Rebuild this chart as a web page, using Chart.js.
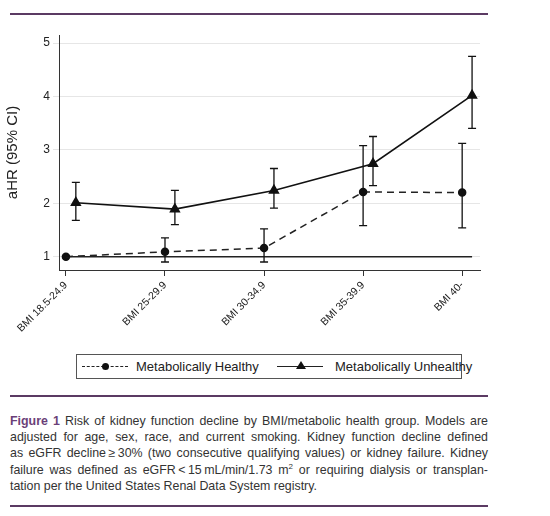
<!DOCTYPE html>
<html>
<head>
<meta charset="utf-8">
<script src="https://cdn.jsdelivr.net/npm/chart.js@4"></script>
<style>
body { margin: 0; background: #fff; font-family: "Liberation Sans", Arial, sans-serif; }
.rule { position: absolute; left: 10px; width: 478px; height: 2px; background: #5b3a63; }
#wrap { position: absolute; left: 0; top: 20px; width: 490px; height: 330px; }
#legend { position: absolute; left: 76px; top: 354px; width: 384px; height: 23px; border: 1px solid #555; font-size: 13px; color: #222; white-space: nowrap; }
.item { position: absolute; top: 4px; }
.sample { position: absolute; top: 11px; width: 46px; height: 0; }
.caption { position: absolute; left: 10px; top: 413px; width: 478px; font-size: 12.4px; line-height: 16.2px; color: #333; }
.caption div { text-align: justify; text-align-last: justify; white-space: nowrap; }
.caption div.last { text-align-last: left; }
.caption b { color: #6b3f78; }
</style>
</head>
<body>
<div class="rule" style="top:13px"></div>
<div id="wrap"><canvas id="chart"></canvas></div>
<div id="legend">
  <div class="sample" style="left:5px;border-top:1.5px dashed #222"></div>
  <div style="position:absolute;left:25px;top:8px;width:7px;height:7px;border-radius:50%;background:#111"></div>
  <div class="item" style="left:59px">Metabolically Healthy</div>
  <div class="sample" style="left:200px;border-top:1.5px solid #222"></div>
  <div style="position:absolute;left:219px;top:6px;width:0;height:0;border-left:5px solid transparent;border-right:5px solid transparent;border-bottom:8px solid #111"></div>
  <div class="item" style="left:258px">Metabolically Unhealthy</div>
</div>
<div class="rule" style="top:395px"></div>
<div class="caption">
<div><b>Figure 1</b> Risk of kidney function decline by BMI/metabolic health group. Models are</div>
<div>adjusted for age, sex, race, and current smoking. Kidney function decline defined</div>
<div>as eGFR decline&thinsp;&ge;&thinsp;30% (two consecutive qualifying values) or kidney failure. Kidney</div>
<div>failure was defined as eGFR&thinsp;&lt;&thinsp;15&thinsp;mL/min/1.73&nbsp;m<sup style="font-size:8px;line-height:0">2</sup> or requiring dialysis or transplan-</div>
<div class="last">tation per the United States Renal Data System registry.</div>
</div>
<div class="rule" style="top:505px"></div>
<script>
const categories = ["BMI 18.5-24.9", "BMI 25-29.9", "BMI 30-34.9", "BMI 35-39.9", "BMI 40-"];
const healthy = [1, 1.09, 1.16, 2.21, 2.2];
const healthyLow = [1, 0.9, 0.9, 1.58, 1.54];
const healthyHigh = [1, 1.35, 1.52, 3.08, 3.12];
const unhealthy = [2.01, 1.89, 2.24, 2.74, 4.02];
const unhealthyLow = [1.68, 1.6, 1.91, 2.33, 3.4];
const unhealthyHigh = [2.39, 2.24, 2.65, 3.25, 4.75];
const yTicks = [1, 2, 3, 4, 5];
const offset = 0.1;

const errorBars = {
    id: "errorBars",
    afterDatasetsDraw(chart) {
        const c = chart.ctx;
        const x = chart.scales.x;
        const y = chart.scales.y;
        c.save();
        c.strokeStyle = "#111";
        c.lineWidth = 1.3;
        chart.data.datasets.forEach((ds) => {
            if (!ds.low) return;
            ds.data.forEach((p, i) => {
                const px = x.getPixelForValue(p.x);
                const top = y.getPixelForValue(ds.high[i]);
                const bot = y.getPixelForValue(ds.low[i]);
                c.beginPath();
                c.moveTo(px, top); c.lineTo(px, bot);
                c.moveTo(px - 4, top); c.lineTo(px + 4, top);
                c.moveTo(px - 4, bot); c.lineTo(px + 4, bot);
                c.stroke();
            });
        });
        c.restore();
    },
};

new Chart(document.getElementById("chart"), {
    type: "line",
    data: {
        datasets: [
            {
                label: "ref",
                data: [{ x: 0, y: 1 }, { x: 4 + offset, y: 1 }],
                borderColor: "#222",
                borderWidth: 1.5,
                pointRadius: 0,
            },
            {
                label: "Metabolically Healthy",
                data: healthy.map((v, i) => ({ x: i, y: v })),
                low: healthyLow,
                high: healthyHigh,
                borderColor: "#222",
                borderWidth: 1.5,
                borderDash: [7, 5],
                pointStyle: "circle",
                pointRadius: 3.5,
                pointBackgroundColor: "#111",
                pointBorderColor: "#111",
            },
            {
                label: "Metabolically Unhealthy",
                data: unhealthy.map((v, i) => ({ x: i + offset, y: v })),
                low: unhealthyLow,
                high: unhealthyHigh,
                borderColor: "#111",
                borderWidth: 1.6,
                pointStyle: "triangle",
                pointRadius: 5,
                pointBackgroundColor: "#111",
                pointBorderColor: "#111",
            },
        ],
    },
    options: {
        responsive: true,
        maintainAspectRatio: false,
        animation: false,
        layout: { padding: { top: 15, right: 10 } },
        plugins: { legend: { display: false }, tooltip: { enabled: false } },
        scales: {
            x: {
                type: "linear",
                min: -0.07,
                max: 4.18,
                afterBuildTicks: (s) => { s.ticks = categories.map((_, i) => ({ value: i })); },
                afterFit: (s) => { s.height = 80; },
                ticks: {
                    callback: (v) => categories[v],
                    minRotation: 45,
                    maxRotation: 45,
                    color: "#222",
                    font: { size: 10.5, family: "Liberation Sans" },
                },
                grid: { drawOnChartArea: false, tickLength: 6, color: "#333" },
                border: { color: "#333" },
            },
            y: {
                min: 0.75,
                max: 5.15,
                afterBuildTicks: (s) => { s.ticks = yTicks.map((v) => ({ value: v })); },
                afterFit: (s) => { s.width = 59; },
                ticks: { color: "#222", font: { size: 12, family: "Liberation Sans" } },
                grid: { color: "#e6e6e6", tickLength: 6 },
                border: { color: "#333" },
                title: {
                    display: true,
                    text: "aHR (95% CI)",
                    color: "#222",
                    font: { size: 15, family: "Liberation Sans" },
                },
            },
        },
    },
    plugins: [errorBars],
});
</script>
</body>
</html>
